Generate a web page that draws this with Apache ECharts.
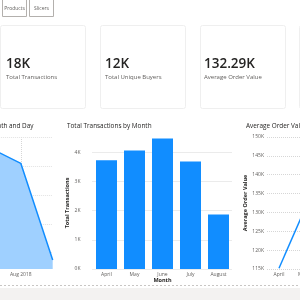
<!DOCTYPE html>
<html>
<head>
<meta charset="utf-8">
<script src="https://cdn.jsdelivr.net/npm/echarts@6/dist/echarts.min.js"></script>
<style>
  html, body { margin: 0; padding: 0; background: #fff; }
  #chart { width: 300px; height: 300px; }
</style>
</head>
<body>
<div id="chart"></div>
<script>
// KPI cards
const kpiValues = ["18K", "12K", "132.29K"];
const kpiLabels = ["Total Transactions", "Total Unique Buyers", "Average Order Value"];
const buttonLabels = ["Products", "Slicers"];

// left: transactions by month and day (cropped)
const dayCategories = ["Jul 2018", "Aug 2018", "Sep 2018"];
const dayValues = [4640, 4090, 750];
const dayGridValues = [1000, 2000, 3000, 4000, 5000];

// middle: total transactions by month
const months = ["April", "May", "June", "July", "August"];
const txValues = [3720, 4060, 4470, 3680, 1870];

// right: average order value by month (only first two visible)
const aovValues = [115200, 129800];

const FONT = "Open Sans";
const blue = "#118DFF";
const gridLine = { color: "#d6d6d6", type: "dotted", width: 1 };
const tickLabel = { fontFamily: FONT, fontSize: 5, color: "#605e5c" };
const axisTitle = { fontFamily: FONT, fontSize: 5.5, fontWeight: "bold", color: "#252423" };
const titleStyle = { fontFamily: FONT, fontSize: 6.4, fontWeight: 500, color: "#252423" };

const chart = echarts.init(document.getElementById("chart"));

const graphic = [];
buttonLabels.forEach((label, i) => {
  const x = 2 + i * 27;
  graphic.push({
    type: "rect",
    shape: { x: x + 0.5, y: -1.5, width: 24, height: 18 },
    style: { fill: "#fff", stroke: "#b3b0ad", lineWidth: 1 }
  });
  graphic.push({
    type: "text",
    x: x + 12.5,
    y: 8.5,
    style: { text: label, fontFamily: FONT, fontSize: 5, fill: "#605e5c", align: "center", verticalAlign: "middle" }
  });
});

[0, 100, 200, 299].forEach((x) => {
  graphic.push({
    type: "rect",
    shape: { x: x + 0.5, y: 25.5, width: 85, height: 83, r: 2 },
    style: { fill: "#fff", stroke: "#efefef", lineWidth: 1 }
  });
});

kpiValues.forEach((v, i) => {
  const x = 6 + i * 99;
  graphic.push({
    type: "text",
    x: x,
    y: 64,
    style: { text: v, fontFamily: FONT, fontSize: 13.5, fontWeight: 600, fill: "#252423", verticalAlign: "middle" }
  });
  graphic.push({
    type: "text",
    x: x,
    y: 77.5,
    style: { text: kpiLabels[i], fontFamily: FONT, fontSize: 6, fill: "#605e5c", verticalAlign: "middle" }
  });
});

graphic.push({
  type: "line",
  shape: { x1: 0, y1: 285.5, x2: 300, y2: 285.5 },
  style: { stroke: "#c8c6c4", lineWidth: 1, lineDash: [2, 2] }
});
graphic.push({
  type: "rect",
  shape: { x: 0, y: 288, width: 300, height: 12 },
  style: { fill: "#f3f2f1" }
});

const option = {
  backgroundColor: "#fff",
  animation: false,
  title: [
    { text: "Total Transactions by Month and Day", right: 266.5, top: 123, padding: 0, textStyle: titleStyle },
    { text: "Total Transactions by Month", left: 67, top: 123, padding: 0, textStyle: titleStyle },
    { text: "Average Order Value", left: 246, top: 123, padding: 0, textStyle: titleStyle }
  ],
  graphic: graphic,
  grid: [
    { left: -11.15, width: 63.85, top: 137, height: 132, outerBoundsMode: "none" },
    { left: 92.5, width: 140, top: 137, height: 132, outerBoundsMode: "none" },
    { left: 267, width: 120, top: 137, height: 132, outerBoundsMode: "none" }
  ],
  xAxis: [
    {
      gridIndex: 0,
      type: "category",
      boundaryGap: false,
      data: dayCategories,
      axisLine: { show: false },
      axisTick: { show: false },
      axisLabel: { ...tickLabel, margin: 3, interval: (i) => i === 1 },
      splitLine: { show: true, interval: (i) => i === 1, lineStyle: gridLine }
    },
    {
      gridIndex: 1,
      type: "category",
      data: months,
      axisLine: { show: false },
      axisTick: { show: false },
      axisLabel: { ...tickLabel, margin: 3 },
      name: "Month",
      nameLocation: "middle",
      nameGap: 8,
      nameTextStyle: axisTitle
    },
    {
      gridIndex: 2,
      type: "category",
      data: months,
      axisLine: { show: false },
      axisTick: { show: false },
      axisLabel: { ...tickLabel, margin: 3 }
    }
  ],
  yAxis: [
    {
      gridIndex: 0,
      type: "value",
      min: 437,
      max: 5000,
      axisLine: { show: false },
      axisTick: { show: false },
      axisLabel: { show: false },
      splitLine: { show: false }
    },
    {
      gridIndex: 1,
      type: "value",
      min: 0,
      max: 4520,
      interval: 1000,
      axisLine: { show: false },
      axisTick: { show: false },
      axisLabel: { ...tickLabel, margin: 12, showMaxLabel: false, formatter: (v) => v / 1000 + "K" },
      splitLine: { show: true, showMaxLine: false, lineStyle: gridLine },
      name: "Total Transactions",
      nameLocation: "middle",
      nameGap: 22.5,
      nameRotate: 90,
      nameTextStyle: axisTitle
    },
    {
      gridIndex: 2,
      type: "value",
      min: 115000,
      max: 150000,
      interval: 5000,
      axisLine: { show: false },
      axisTick: { show: false },
      axisLabel: { ...tickLabel, margin: 3, formatter: (v) => v / 1000 + "K" },
      splitLine: { show: true, lineStyle: gridLine },
      name: "Average Order Value",
      nameLocation: "middle",
      nameGap: 18,
      nameRotate: 90,
      nameTextStyle: axisTitle
    }
  ],
  series: [
    {
      type: "line",
      xAxisIndex: 0,
      yAxisIndex: 0,
      z: 3,
      data: dayValues,
      symbol: "none",
      lineStyle: { color: blue, width: 1.5 },
      itemStyle: { color: blue },
      areaStyle: { color: "#9fd0ff", opacity: 1, origin: "start" },
      markLine: {
        silent: true,
        z: 1,
        symbol: "none",
        label: { show: false },
        lineStyle: { color: "#e2e2e2", type: "dotted", width: 1 },
        data: dayGridValues.map((v) => ({ yAxis: v }))
      }
    },
    {
      type: "bar",
      xAxisIndex: 1,
      yAxisIndex: 1,
      data: txValues,
      barCategoryGap: "25%",
      itemStyle: { color: blue }
    },
    {
      type: "line",
      xAxisIndex: 2,
      yAxisIndex: 2,
      data: aovValues,
      symbol: "none",
      lineStyle: { color: blue, width: 1.5 },
      itemStyle: { color: blue }
    }
  ]
};

chart.setOption(option);
</script>
</body>
</html>
